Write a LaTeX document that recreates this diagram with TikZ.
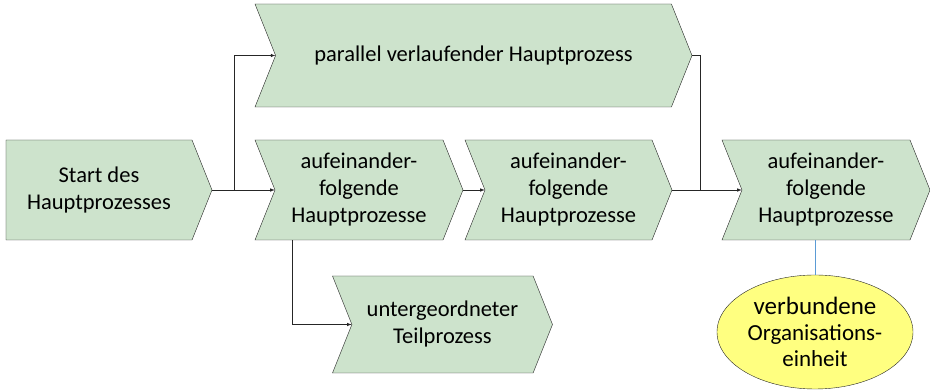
\documentclass[tikz,border=0pt]{standalone}
\usepackage{fontspec}
\setmainfont{Carlito}
\usetikzlibrary{shapes.symbols,shapes.geometric,calc}
\definecolor{procgreen}{RGB}{205,227,204}
\definecolor{orgyellow}{RGB}{255,255,128}
\definecolor{linkblue}{RGB}{91,155,213}
\tikzset{
  proc/.style={signal, signal to=east, signal from=west, signal pointer angle=136.4,
    draw=black!85, fill=procgreen, inner sep=0pt, minimum height=100pt,
    align=center, font=\fontsize{22.5}{27}\selectfont},
  startproc/.style={proc, signal from=nowhere},
  orgunit/.style={ellipse, draw=black!85, fill=orgyellow, inner sep=0pt,
    minimum width=196pt, minimum height=114pt, align=center,
    font=\fontsize{23}{26}\selectfont},
  flow/.style={-latex, black!85, line width=0.6pt}
}
\begin{document}
\begin{tikzpicture}[x=1pt,y=1pt]
\useasboundingbox (0,0) rectangle (930,390);
\node[startproc, minimum width=206pt] (start) at (99,200) {Start des\\Hauptprozesses};
\node[proc, minimum width=437pt, minimum height=103pt] (par) at (473.5,334.5) {parallel verlaufender Hauptprozess};
\node[proc, minimum width=208pt] (m1) at (359,200) {aufeinander-\\folgende\\Hauptprozesse};
\node[proc, minimum width=207pt] (m2) at (568.5,200) {aufeinander-\\folgende\\Hauptprozesse};
\node[proc, minimum width=208pt] (r) at (826,200) {aufeinander-\\folgende\\Hauptprozesse};
\node[proc, minimum width=220pt, minimum height=97pt] (sub) at (442.5,65.5) {untergeordneter\\Teilprozess};
\node[orgunit] (org) at (815,58) {{\fontsize{25}{26}\selectfont verbundene}\\Organisations-\\einheit};
% Verbindungen
\coordinate (split) at ($(start.east)+(22,0)$);
\coordinate (merge) at ($(par.east)+(8,0)$);
\draw[flow] (start.east) -- (m1.west);
\draw[flow] (split) |- (par.west);
\draw[flow] (m1.east) -- (m2.west);
\draw[flow] (m2.east) -- (r.west);
\draw[flow, -] (par.east) -| (merge |- r.west);
\draw[flow] ($(m1.south)+(-67,0)$) |- (sub.west);
\draw[linkblue, line width=0.6pt] (org.north) -- (org.north |- r.south);
\end{tikzpicture}
\end{document}
